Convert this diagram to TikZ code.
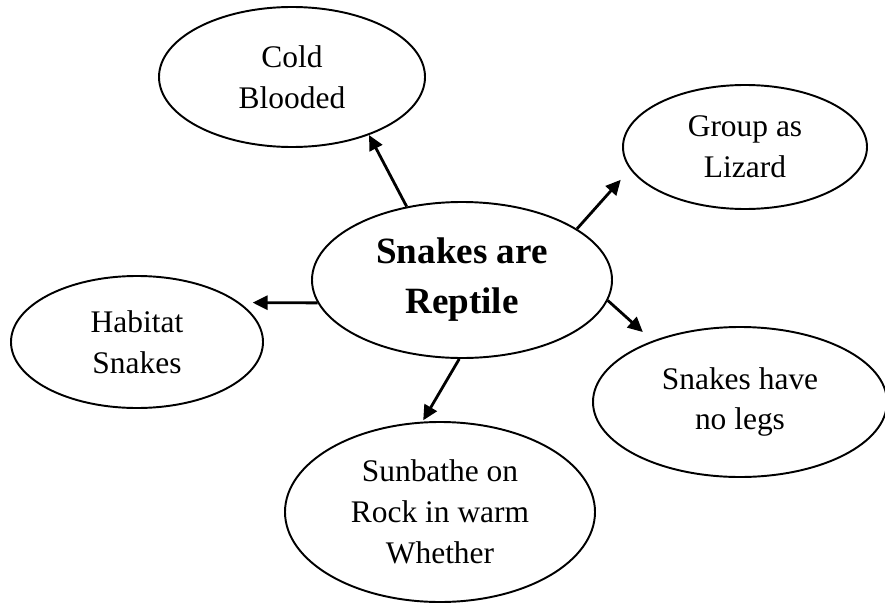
\documentclass[tikz,border=0pt]{standalone}
\usepackage{fontspec}
\setmainfont{Liberation Serif}
\usepackage{tikz}
\usetikzlibrary{arrows.meta, shapes.geometric}

\tikzset{
  bubble/.style={draw, ellipse, line width=1.1pt, inner sep=0pt, align=center,
    font=\fontsize{17.9}{23.3}\selectfont},
  link/.style={-{Triangle[length=8.5pt, width=8pt]}, line width=1.6pt}
}

\begin{document}
\begin{tikzpicture}
  \useasboundingbox (0,0) rectangle (17.70,-12.04);

  % centre and the five ideas round it
  \node[bubble, minimum width=6.00cm, minimum height=3.12cm,
        font=\fontsize{21.1}{28.5}\selectfont\bfseries] (reptile) at (9.24,-5.60) {Snakes are\\Reptile};
  \node[bubble, minimum width=5.32cm, minimum height=2.80cm] (cold) at (5.84,-1.54) {Cold\\Blooded};
  \node[bubble, minimum width=4.88cm, minimum height=2.48cm] (group) at (14.90,-2.94) {Group as\\Lizard};
  \node[bubble, minimum width=5.04cm, minimum height=2.64cm] (habitat) at (2.74,-6.84) {Habitat\\Snakes};
  \node[bubble, minimum width=5.88cm, minimum height=3.00cm] (nolegs) at (14.80,-8.04) {Snakes have\\no legs};
  \node[bubble, minimum width=6.20cm, minimum height=3.60cm] (sunbathe) at (8.80,-10.24) {Sunbathe on\\Rock in warm\\Whether};

  \draw[link] (reptile.127) -- (cold.-37);
  \draw[link, shorten >=0.28cm] (reptile.24.7) -- (group.191.4);
  \draw[link, shorten >=0.26cm] (reptile.189) -- (habitat.21);
  \draw[link, shorten >=0.26cm] (reptile.-8.7) -- (nolegs.145.5);
  \draw[link, shorten >=0.03cm] (reptile.-92) -- (sunbathe.101.4);
\end{tikzpicture}
\end{document}
